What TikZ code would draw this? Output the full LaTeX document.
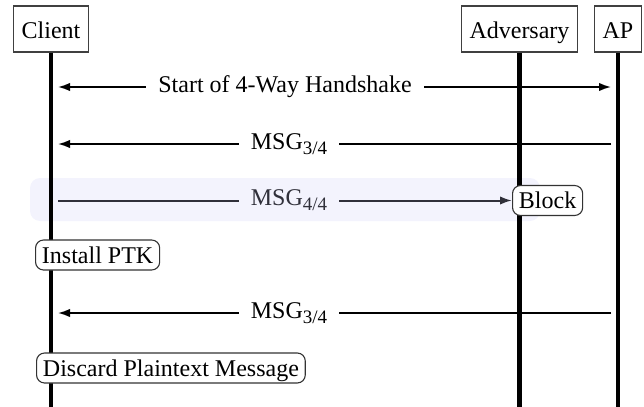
\documentclass[tikz,border=0pt]{standalone}
\usepackage{fontspec}
\setmainfont{Liberation Serif}
\usetikzlibrary{arrows.meta}
\definecolor{bandbg}{HTML}{F3F3FD}
\definecolor{msggray}{HTML}{30303A}
\newcommand{\msgsub}[1]{\raisebox{-0.45ex}{\fontsize{9.5}{10}\selectfont #1}}
\begin{document}
\begin{tikzpicture}[x=0.5pt,y=-0.5pt,
  every node/.style={font=\fontsize{12}{14}\selectfont},
  actor/.style={draw=black!75, line width=0.55pt, fill=white,
    minimum height=23pt, inner xsep=4pt, inner ysep=1.5pt,
    text height=11pt, text depth=1pt},
  event/.style={draw=black!80, line width=0.55pt, fill=white,
    rounded corners=4pt, minimum height=15pt, inner xsep=3.2pt, inner ysep=1.5pt,
    text height=10pt, text depth=2pt},
  lifeline/.style={line width=2.2pt},
  msg/.style={line width=0.85pt, -{Latex[length=6pt,width=4.2pt]},
    shorten >=3.5pt, shorten <=3.5pt},
  msglabel/.style={fill=white, inner xsep=6pt, inner ysep=1pt}]
\useasboundingbox (0,0) rectangle (644,407);

% highlighted step (blocked message)
\fill[bandbg, rounded corners=5pt] (30,178) rectangle (540,221);

% actors
\node[actor] (client) at (51,29) {Client};
\node[actor] (adv)    at (519.5,29) {Adversary};
\node[actor] (ap)     at (618,29) {AP};

% bottom ends of the lifelines
\coordinate (clientEnd) at (client.south |- 0,407);
\coordinate (advEnd)    at (adv.south |- 0,407);
\coordinate (apEnd)     at (ap.south |- 0,407);

% lifelines
\draw[lifeline] (client.south) -- (clientEnd);
\draw[lifeline] (adv.south) -- (advEnd);
\draw[lifeline] (ap.south) -- (apEnd);

% anchor points of the messages on the lifelines
\coordinate (c1) at (client.south |- 0,87);
\coordinate (p1) at (ap.south |- 0,87);
\coordinate (c2) at (client.south |- 0,144);
\coordinate (p2) at (ap.south |- 0,144);
\coordinate (c3) at (client.south |- 0,200.5);
\coordinate (c5) at (client.south |- 0,313);
\coordinate (p5) at (ap.south |- 0,313);

% events
\node[event, anchor=west] (block) at (512,200.5) {Block};
\node[event, anchor=west] (ptk) at (35,255) {Install PTK};
\node[event, anchor=west] (discard) at (36,368) {Discard Plaintext Message};

% messages
\draw[msg, {Latex[length=6pt,width=4.2pt]}-{Latex[length=6pt,width=4.2pt]}] (c1) -- (p1);
\node[msglabel] (l1) at (285,87) {Start of 4-Way Handshake};

\draw[msg] (p2) -- (c2);
\node[msglabel] (l2) at (289,144) {MSG\msgsub{3/4}};

\draw[msg, msggray, line width=1pt, shorten >=0pt] (c3) -- (block.west);
\node[msglabel, fill=bandbg, text=msggray] (l3) at (289,200.5) {MSG\msgsub{4/4}};

\draw[msg] (p5) -- (c5);
\node[msglabel] (l5) at (289,313) {MSG\msgsub{3/4}};
\end{tikzpicture}
\end{document}
